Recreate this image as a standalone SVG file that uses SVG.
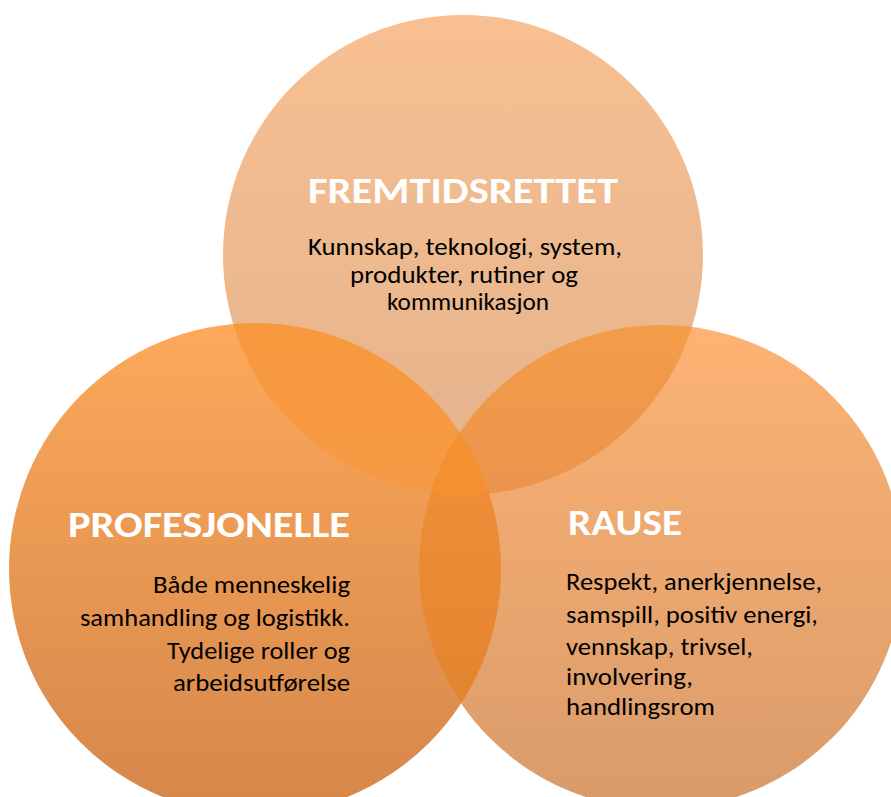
<svg xmlns="http://www.w3.org/2000/svg" width="891" height="797" viewBox="0 0 891 797">
<style>
.title{font-family:Carlito,Calibri,"Liberation Sans",Arial,sans-serif;font-weight:bold;fill:#ffffff;font-size:37px}
.body{font-family:Carlito,Calibri,"Liberation Sans",Arial,sans-serif;fill:#000000;font-size:23.5px}
</style>
<defs>
<linearGradient id="gTop" gradientUnits="userSpaceOnUse" x1="0" y1="15" x2="0" y2="495"><stop offset="0" stop-color="#f8c092"/><stop offset="1" stop-color="#e3b28c"/></linearGradient>
<linearGradient id="gLeft" gradientUnits="userSpaceOnUse" x1="0" y1="323" x2="0" y2="815"><stop offset="0" stop-color="#fca95b"/><stop offset="1" stop-color="#d5864a"/></linearGradient>
<linearGradient id="gRight" gradientUnits="userSpaceOnUse" x1="0" y1="325" x2="0" y2="809"><stop offset="0" stop-color="#fdb373"/><stop offset="1" stop-color="#d99b6b"/></linearGradient>
<linearGradient id="gTL" gradientUnits="userSpaceOnUse" x1="0" y1="323" x2="0" y2="495"><stop offset="0" stop-color="#f8993d"/><stop offset="1" stop-color="#f59a45"/></linearGradient>
<linearGradient id="gTR" gradientUnits="userSpaceOnUse" x1="0" y1="325" x2="0" y2="495"><stop offset="0" stop-color="#f39c49"/><stop offset="1" stop-color="#ec944d"/></linearGradient>
<linearGradient id="gLR" gradientUnits="userSpaceOnUse" x1="0" y1="430" x2="0" y2="700"><stop offset="0" stop-color="#f2903a"/><stop offset="1" stop-color="#e3842f"/></linearGradient>
<clipPath id="cTop"><circle cx="463" cy="255" r="240"/></clipPath>
<clipPath id="cLeft"><circle cx="255" cy="569" r="246"/></clipPath>
<clipPath id="cRight"><circle cx="661" cy="567" r="242"/></clipPath>
</defs>
<g id="node-fremtidsrettet-shape"><circle cx="463" cy="255" r="240" fill="url(#gTop)"/></g>
<g id="node-profesjonelle-shape"><circle cx="255" cy="569" r="246" fill="url(#gLeft)"/></g>
<g id="node-rause-shape"><circle cx="661" cy="567" r="242" fill="url(#gRight)"/></g>
<g id="overlaps">
<circle cx="255" cy="569" r="246" fill="url(#gTL)" clip-path="url(#cTop)"/>
<circle cx="661" cy="567" r="242" fill="url(#gTR)" clip-path="url(#cTop)"/>
<circle cx="661" cy="567" r="242" fill="url(#gLR)" clip-path="url(#cLeft)"/>
<g clip-path="url(#cLeft)"><circle cx="661" cy="567" r="242" fill="#f4902f" clip-path="url(#cTop)"/></g>
</g>
<g id="node-fremtidsrettet">
<text class="title" x="463" y="203" text-anchor="middle" textLength="310" lengthAdjust="spacingAndGlyphs">FREMTIDSRETTET</text>
<text class="body" x="465" y="255" text-anchor="middle" textLength="314" lengthAdjust="spacingAndGlyphs">Kunnskap, teknologi, system,</text>
<text class="body" x="464" y="283" text-anchor="middle" textLength="228" lengthAdjust="spacingAndGlyphs">produkter, rutiner og</text>
<text class="body" x="468" y="310" text-anchor="middle" textLength="162" lengthAdjust="spacingAndGlyphs">kommunikasjon</text>
</g>
<g id="node-profesjonelle">
<text class="title" x="68" y="537" textLength="282" lengthAdjust="spacingAndGlyphs">PROFESJONELLE</text>
<text class="body" x="350" y="593" text-anchor="end" textLength="197" lengthAdjust="spacingAndGlyphs">Både menneskelig</text>
<text class="body" x="350" y="626" text-anchor="end" textLength="270" lengthAdjust="spacingAndGlyphs">samhandling og logistikk.</text>
<text class="body" x="350" y="659" text-anchor="end" textLength="183" lengthAdjust="spacingAndGlyphs">Tydelige roller og</text>
<text class="body" x="350" y="691" text-anchor="end" textLength="177" lengthAdjust="spacingAndGlyphs">arbeidsutførelse</text>
</g>
<g id="node-rause">
<text class="title" x="568" y="535" textLength="114" lengthAdjust="spacingAndGlyphs">RAUSE</text>
<text class="body" x="566" y="590" textLength="256" lengthAdjust="spacingAndGlyphs">Respekt, anerkjennelse,</text>
<text class="body" x="566" y="623" textLength="252" lengthAdjust="spacingAndGlyphs">samspill, positiv energi,</text>
<text class="body" x="566" y="655" textLength="187" lengthAdjust="spacingAndGlyphs">vennskap, trivsel,</text>
<text class="body" x="566" y="685" textLength="127" lengthAdjust="spacingAndGlyphs">involvering,</text>
<text class="body" x="566" y="715" textLength="149" lengthAdjust="spacingAndGlyphs">handlingsrom</text>
</g>
</svg>
